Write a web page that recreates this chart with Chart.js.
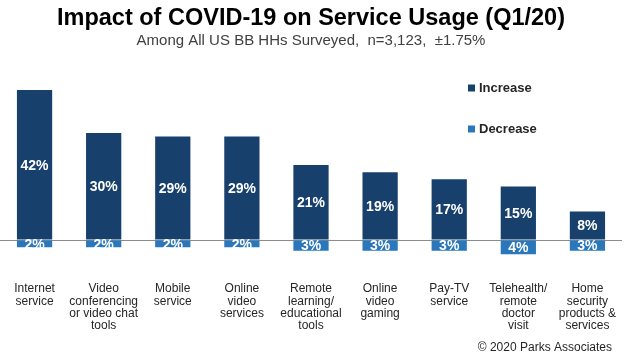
<!DOCTYPE html>
<html>
<head>
<meta charset="utf-8">
<script src="https://cdn.jsdelivr.net/npm/chart.js@4"></script>
<style>
  html, body { margin: 0; padding: 0; background: #ffffff; }
  #wrap { width: 634px; height: 361px; }
</style>
</head>
<body>
<div id="wrap"><canvas id="c" width="634" height="361"></canvas></div>
<script>
const titleText = 'Impact of COVID-19 on Service Usage (Q1/20)';
const subtitleText = 'Among All US BB HHs Surveyed,  n=3,123,  \u00B11.75%';
const creditText = '\u00A9 2020 Parks Associates';
const categories = [
  ['Internet', 'service'],
  ['Video', 'conferencing', 'or video chat', 'tools'],
  ['Mobile', 'service'],
  ['Online', 'video', 'services'],
  ['Remote', 'learning/', 'educational', 'tools'],
  ['Online', 'video', 'gaming'],
  ['Pay-TV', 'service'],
  ['Telehealth/', 'remote', 'doctor', 'visit'],
  ['Home', 'security', 'products &', 'services']
];
const increaseValues = [42, 30, 29, 29, 21, 19, 17, 15, 8];
const decreaseValues = [2, 2, 2, 2, 3, 3, 3, 4, 3];
const seriesNames = ['Increase', 'Decrease'];
const seriesColors = ['#17406d', '#2a77bc'];

const FONT = "'Liberation Sans', Arial, sans-serif";

const barLabelPlugin = {
  id: 'barLabels',
  afterDatasetsDraw(chart) {
    const ctx = chart.ctx;
    ctx.save();
    ctx.font = 'bold 14px ' + FONT;
    ctx.fillStyle = '#ffffff';
    ctx.textAlign = 'center';
    ctx.textBaseline = 'middle';
    chart.data.datasets.forEach((ds, di) => {
      const meta = chart.getDatasetMeta(di);
      meta.data.forEach((bar, i) => {
        const p = bar.getCenterPoint();
        ctx.fillText(Math.abs(ds.data[i]) + '%', p.x, p.y + 1);
      });
    });
    ctx.restore();
  }
};

const legendPlugin = {
  id: 'customLegend',
  afterDraw(chart) {
    const ctx = chart.ctx;
    ctx.save();
    ctx.font = 'bold 13px ' + FONT;
    ctx.textBaseline = 'middle';
    ctx.textAlign = 'left';
    const ys = [88, 129];
    chart.data.datasets.forEach((ds, i) => {
      ctx.fillStyle = ds.backgroundColor;
      ctx.fillRect(468, ys[i] - 3.5, 7, 7);
      ctx.fillStyle = '#262626';
      ctx.fillText(ds.label, 479, ys[i]);
    });
    ctx.restore();
  }
};

const creditPlugin = {
  id: 'credit',
  afterDraw(chart) {
    const ctx = chart.ctx;
    ctx.save();
    ctx.font = '12px ' + FONT;
    ctx.fillStyle = '#262626';
    ctx.textAlign = 'right';
    ctx.textBaseline = 'middle';
    ctx.fillText(creditText, 612, 348);
    ctx.restore();
  }
};

new Chart(document.getElementById('c'), {
  type: 'bar',
  data: {
    labels: categories,
    datasets: [
      { label: seriesNames[0], data: increaseValues, backgroundColor: seriesColors[0] },
      { label: seriesNames[1], data: decreaseValues.map(v => -v), backgroundColor: seriesColors[1] }
    ]
  },
  options: {
    responsive: false,
    devicePixelRatio: 1,
    animation: false,
    layout: { padding: { left: 0, right: 12, top: 0, bottom: 28.7 } },
    datasets: { bar: { barPercentage: 0.51, categoryPercentage: 1.0 } },
    plugins: {
      legend: { display: false },
      tooltip: { enabled: false },
      title: {
        display: true,
        text: titleText,
        color: '#000000',
        font: { family: FONT, size: 23.5, weight: 'bold', lineHeight: 1.1 },
        padding: { top: 6, bottom: 0 }
      },
      subtitle: {
        display: true,
        text: subtitleText,
        color: '#404040',
        font: { family: FONT, size: 15, lineHeight: 1.2 },
        padding: { top: 0, bottom: 29.5 }
      }
    },
    scales: {
      x: {
        stacked: true,
        grid: { display: false, drawTicks: false },
        border: { display: false },
        ticks: {
          color: '#262626',
          font: { family: FONT, size: 12, lineHeight: 1.03 },
          padding: 0,
          maxRotation: 0,
          minRotation: 0,
          autoSkip: false
        }
      },
      y: {
        stacked: true,
        min: -12,
        max: 45,
        ticks: { display: false, stepSize: 1 },
        border: { display: false },
        grid: {
          drawTicks: false,
          color: (c) => (c.tick && c.tick.value === 0 ? '#8c8c8c' : 'rgba(0,0,0,0)'),
          lineWidth: 1
        }
      }
    }
  },
  plugins: [barLabelPlugin, legendPlugin, creditPlugin]
});
</script>
</body>
</html>
